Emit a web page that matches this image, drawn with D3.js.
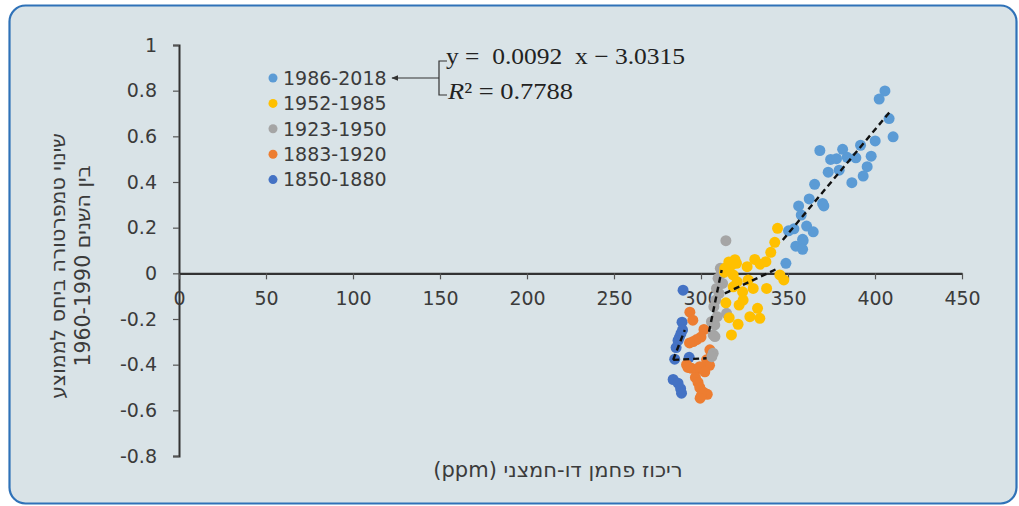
<!DOCTYPE html>
<html lang="he">
<head>
<meta charset="utf-8">
<script src="https://cdn.jsdelivr.net/npm/d3@7"></script>
<style>
  body { margin: 0; background: #fff; }
  #chart { width: 1019px; height: 506px; position: relative; }
  svg text { font-family: "DejaVu Sans", "Liberation Sans", sans-serif; fill: #3b3b3b; }
  svg text.eq { font-family: "Liberation Serif", "Times New Roman", serif; fill: #222; white-space: pre; }
  svg text.he { direction: rtl; unicode-bidi: embed; }
</style>
</head>
<body>
<div id="chart"></div>
<script>
// periods, top row of the legend first
const periods = ["1986-2018", "1952-1985", "1923-1950", "1883-1920", "1850-1880"];
const colors = ["#5b9bd5", "#ffc000", "#a5a5a5", "#ed7d31", "#4472c4"];

// [co2 ppm, temperature anomaly]
const pts1986 = [
  [405.7, 0.799], [402.4, 0.763], [408.1, 0.678], [410.4, 0.598], [400.1, 0.58],
  [391.7, 0.561], [381.4, 0.543], [368.3, 0.538], [374.5, 0.499], [377.9, 0.502],
  [384.0, 0.508], [389.0, 0.506], [397.8, 0.513], [395.5, 0.467], [393.2, 0.426],
  [386.7, 0.397], [379.4, 0.452], [373.1, 0.443], [365.3, 0.39], [362.2, 0.326],
  [356.1, 0.295], [369.9, 0.306], [370.6, 0.295], [357.6, 0.255], [360.7, 0.207],
  [364.5, 0.182], [353.4, 0.195], [350.3, 0.186], [358.4, 0.149], [354.5, 0.119],
  [358.7, 0.143], [358.4, 0.105], [348.8, 0.044]
];
const pts1952 = [
  [344.0, 0.197], [342.4, 0.136], [340.1, 0.092], [337.3, 0.051], [330.9, 0.061],
  [326.5, 0.029], [320.4, 0.044], [317.5, 0.036], [315.6, 0.014], [313.7, 0.022],
  [318.5, -0.007], [320.8, -0.037], [327.1, -0.029], [345.3, -0.007], [347.6, -0.029],
  [337.7, -0.066], [330.0, -0.066], [323.9, -0.081], [318.5, -0.059], [324.2, -0.117],
  [321.9, -0.139], [332.5, -0.153], [328.1, -0.19], [333.8, -0.197], [316.2, -0.194],
  [321.3, -0.223], [317.5, -0.27], [314.3, -0.129], [313.5, 0.005], [316.0, 0.05],
  [319.5, 0.06], [334.0, 0.04]
];
const pts1923 = [
  [314.3, 0.143], [311.1, 0.022], [311.8, 0.0], [309.8, -0.022], [312.4, -0.044],
  [308.9, -0.066], [310.4, -0.088], [308.5, -0.117], [307.4, -0.146], [314.7, -0.175],
  [309.3, -0.19], [306.0, -0.212], [307.9, -0.226], [307.0, -0.27], [308.0, -0.277],
  [307.0, -0.35], [306.2, -0.365]
];
const pts1883 = [
  [293.6, -0.17], [295.3, -0.205], [301.7, -0.246], [300.0, -0.279], [297.5, -0.29],
  [295.5, -0.299], [293.4, -0.305], [305.1, -0.335], [306.0, -0.352], [303.2, -0.379],
  [304.9, -0.403], [291.7, -0.4], [294.6, -0.416], [297.4, -0.421], [299.3, -0.409],
  [302.2, -0.431], [296.8, -0.456], [298.3, -0.478], [299.3, -0.5], [301.2, -0.52],
  [303.6, -0.53], [300.3, -0.533], [299.5, -0.547], [292.5, -0.412]
];
const pts1850 = [
  [289.7, -0.074], [289.1, -0.214], [289.4, -0.248], [288.5, -0.263], [287.6, -0.28],
  [286.8, -0.294], [285.7, -0.325], [284.9, -0.376], [293.2, -0.368], [284.0, -0.465],
  [286.8, -0.481], [288.3, -0.505], [288.8, -0.525]
];
const points = [pts1986, pts1952, pts1923, pts1883, pts1850];

// linear trend per period: [x0, y0, x1, y1]
const trends = [
  [347.0, 0.146, 408.4, 0.706],
  [313.7, -0.088, 344.3, 0.022],
  [304.6, -0.256, 311.9, 0.015],
  [284.0, -0.379, 303.2, -0.372],
  [284.0, -0.379, 290.7, -0.248]
];

const xTicks = [0, 50, 100, 150, 200, 250, 300, 350, 400, 450];
const yTicks = [1, 0.8, 0.6, 0.4, 0.2, 0, -0.2, -0.4, -0.6, -0.8];
const equation = "y =  0.0092  x \u2212 3.0315";
const rSquared = "0.7788";
const xTitle = "ריכוז פחמן דו-חמצני (ppm)";
const yTitle = ["שינוי טמפרטורה ביחס לממוצע", "בין השנים 1960-1990"];

function Scatter(container) {
  const W = 1019, H = 506;
  const margin = { top: 45, right: 57, bottom: 50, left: 179 };
  const width = W - margin.left - margin.right;
  const height = H - margin.top - margin.bottom;

  const root = d3.select(container).append("svg")
    .attr("width", W)
    .attr("height", H);

  // rounded panel behind everything
  root.append("rect")
    .attr("x", 9.5).attr("y", 5.5)
    .attr("width", 1007).attr("height", 498)
    .attr("rx", 16)
    .attr("fill", "#d9e3e7")
    .attr("stroke", "#2f72b8")
    .attr("stroke-width", 2.2);

  const defs = root.append("defs");
  defs.append("marker")
    .attr("id", "arrow")
    .attr("viewBox", "0 0 10 10")
    .attr("refX", 9).attr("refY", 5)
    .attr("markerWidth", 7).attr("markerHeight", 7)
    .attr("markerUnits", "userSpaceOnUse")
    .attr("orient", "auto")
    .append("path")
    .attr("d", "M0,1 L10,5 L0,9 Z")
    .attr("fill", "#333");

  const svg = root.append("g")
    .attr("transform", `translate(${margin.left},${margin.top})`);

  const x = d3.scaleLinear().domain([0, 450]).range([0, width]);
  const y = d3.scaleLinear().domain([-0.8, 1]).range([height, 0]);

  // y axis
  const yAxis = d3.axisLeft(y)
    .tickValues(yTicks)
    .tickSize(6)
    .tickPadding(16)
    .tickFormat((d) => String(+d.toFixed(1)));
  const gy = svg.append("g").attr("class", "axis").call(yAxis);
  gy.select(".domain").attr("stroke", "#333").attr("stroke-width", 2);
  gy.selectAll(".tick line").attr("stroke", "#555").attr("stroke-width", 1.2);
  gy.selectAll(".tick text").attr("font-size", 19).attr("font-family", null);

  // x axis on y = 0
  const xAxis = d3.axisBottom(x)
    .tickValues(xTicks)
    .tickSize(6)
    .tickSizeOuter(0)
    .tickPadding(12)
    .tickFormat(d3.format("d"));
  const gx = svg.append("g")
    .attr("class", "axis")
    .attr("transform", `translate(0,${y(0)})`)
    .call(xAxis);
  gx.select(".domain").attr("stroke", "#333").attr("stroke-width", 2.2);
  gx.selectAll(".tick line").attr("stroke", "#555").attr("stroke-width", 1.2);
  gx.selectAll(".tick text").attr("font-size", 19).attr("font-family", null);

  // dots, oldest period first so the recent ones sit on top
  const order = d3.range(periods.length).reverse();
  order.forEach((i) => {
    svg.append("g")
      .selectAll("circle")
      .data(points[i])
      .join("circle")
      .attr("cx", (d) => x(d[0]))
      .attr("cy", (d) => y(d[1]))
      .attr("r", 5.5)
      .attr("fill", colors[i]);
  });

  // trend lines
  svg.append("g")
    .selectAll("line")
    .data(trends)
    .join("line")
    .attr("x1", (d) => x(d[0]))
    .attr("y1", (d) => y(d[1]))
    .attr("x2", (d) => x(d[2]))
    .attr("y2", (d) => y(d[3]))
    .attr("stroke", "#111")
    .attr("stroke-width", 2.4)
    .attr("stroke-dasharray", "6,4");

  // legend
  const legend = root.append("g").attr("transform", "translate(273,78)");
  const rows = legend.selectAll("g")
    .data(periods)
    .join("g")
    .attr("transform", (d, i) => `translate(0,${i * 25.4})`);
  rows.append("circle").attr("r", 4.5).attr("fill", (d, i) => colors[i]);
  rows.append("text")
    .attr("x", 10)
    .attr("dy", "0.36em")
    .attr("font-size", 19)
    .text((d) => d);

  // regression note for the recent period
  const note = root.append("g");
  note.append("path")
    .attr("d", "M447,61 H439 V95 H447")
    .attr("fill", "none")
    .attr("stroke", "#333")
    .attr("stroke-width", 1.2);
  note.append("line")
    .attr("x1", 439).attr("y1", 78)
    .attr("x2", 392).attr("y2", 78)
    .attr("stroke", "#333")
    .attr("stroke-width", 1.2)
    .attr("marker-end", "url(#arrow)");
  note.append("text")
    .attr("class", "eq")
    .attr("x", 446).attr("y", 64)
    .attr("font-size", 23)
    .attr("textLength", 239)
    .attr("lengthAdjust", "spacingAndGlyphs")
    .text(equation);
  const r2 = note.append("text")
    .attr("class", "eq")
    .attr("x", 448).attr("y", 99)
    .attr("font-size", 23)
    .attr("textLength", 125)
    .attr("lengthAdjust", "spacingAndGlyphs");
  r2.append("tspan").attr("font-style", "italic").text("R");
  r2.append("tspan").text("\u00b2 = " + rSquared);

  // axis titles (hebrew, right to left)
  root.append("text")
    .attr("class", "he")
    .attr("x", 558).attr("y", 477)
    .attr("text-anchor", "middle")
    .attr("font-size", 21)
    .text(xTitle);

  root.selectAll(".ytitle")
    .data(yTitle)
    .join("text")
    .attr("class", "ytitle he")
    .attr("transform", (d, i) => `translate(${58 + i * 25},266) rotate(-90)`)
    .attr("text-anchor", "middle")
    .attr("dy", "0.35em")
    .attr("font-size", 20.5)
    .text((d) => d);
}

Scatter(document.getElementById("chart"));
</script>
</body>
</html>
